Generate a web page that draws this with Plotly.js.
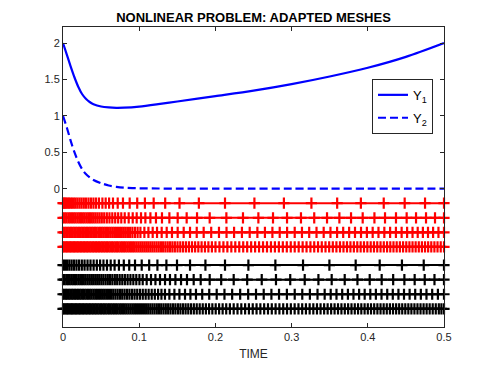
<!DOCTYPE html>
<html>
<head>
<meta charset="utf-8">
<script src="https://cdn.plot.ly/plotly-3.0.1.min.js"></script>
<style>
  html, body { margin: 0; padding: 0; background: #fff; }
  #plot { width: 491px; height: 368px; }
</style>
</head>
<body>
<div id="plot"></div>
<script>
// Solution curves
var time = [0, 0.005, 0.01, 0.015, 0.02, 0.025, 0.03, 0.035, 0.04, 0.05, 0.06, 0.07, 0.08, 0.1, 0.125, 0.15, 0.2, 0.25, 0.3, 0.35, 0.4, 0.45, 0.5];
var y1 = [2.0, 1.84, 1.68, 1.53, 1.40, 1.30, 1.235, 1.19, 1.16, 1.128, 1.115, 1.11, 1.112, 1.127, 1.16, 1.197, 1.27, 1.345, 1.435, 1.54, 1.66, 1.81, 2.0];
var y2 = [1.0, 0.84, 0.66, 0.50, 0.37, 0.27, 0.20, 0.155, 0.12, 0.075, 0.043, 0.025, 0.014, 0.005, 0.002, 0.001, 0, 0, 0, 0, 0, 0, 0];

// Adapted meshes (node positions in TIME), red = first set, black = second set
var redLevels = [-0.2, -0.4, -0.6, -0.8];
var blackLevels = [-1.05, -1.25, -1.45, -1.65];

var redMesh1 = [0, 0.0013, 0.0028, 0.0043, 0.0060, 0.0079, 0.0098, 0.0119, 0.0142, 0.0165, 0.0190, 0.0217, 0.0244, 0.0273, 0.0303, 0.0335, 0.0367, 0.0400, 0.0434, 0.0472, 0.0517, 0.0560, 0.0605, 0.0656, 0.0718, 0.0787, 0.0875, 0.0974, 0.1075, 0.1190, 0.1341, 0.1529, 0.1783, 0.2126, 0.2512, 0.2899, 0.3260, 0.3598, 0.3909, 0.4209, 0.4484, 0.4751, 0.5];

var redMesh2 = [0, 0.0024, 0.0047, 0.0071, 0.0094, 0.0118, 0.0142, 0.0165, 0.0189, 0.0213, 0.0236, 0.0260, 0.0283, 0.0307, 0.0331, 0.0354, 0.0378, 0.0402, 0.0427, 0.0453, 0.0480, 0.0509, 0.0541, 0.0575, 0.0610, 0.0647, 0.0685, 0.0724, 0.0765, 0.0810, 0.0862, 0.0915, 0.0967, 0.1024, 0.1081, 0.1147, 0.1220, 0.1299, 0.1396, 0.1505, 0.1623, 0.1759, 0.1925, 0.2144, 0.2362, 0.2564, 0.2756, 0.2940, 0.3123, 0.3297, 0.3465, 0.3627, 0.3780, 0.3933, 0.4087, 0.4226, 0.4370, 0.4510, 0.4633, 0.4764, 0.4882, 0.5];

var redMesh3 = [0, 0.0021, 0.0042, 0.0063, 0.0084, 0.0105, 0.0126, 0.0147, 0.0168, 0.0189, 0.0210, 0.0231, 0.0252, 0.0273, 0.0294, 0.0315, 0.0336, 0.0357, 0.0378, 0.0399, 0.0420, 0.0442, 0.0465, 0.0487, 0.0509, 0.0531, 0.0554, 0.0577, 0.0601, 0.0625, 0.0648, 0.0672, 0.0697, 0.0722, 0.0747, 0.0772, 0.0798, 0.0824, 0.0852, 0.0881, 0.0911, 0.0944, 0.0979, 0.1016, 0.1068, 0.1121, 0.1177, 0.1234, 0.1295, 0.1361, 0.1430, 0.1505, 0.1584, 0.1667, 0.1755, 0.1846, 0.1945, 0.2047, 0.2146, 0.2245, 0.2348, 0.2450, 0.2551, 0.2650, 0.2748, 0.2844, 0.2941, 0.3041, 0.3136, 0.3231, 0.3327, 0.3421, 0.3510, 0.3597, 0.3677, 0.3755, 0.3832, 0.3911, 0.3988, 0.4064, 0.4140, 0.4217, 0.4293, 0.4369, 0.4444, 0.4516, 0.4587, 0.4655, 0.4723, 0.4790, 0.4857, 0.4927, 0.5];

var redMesh4 = [0, 0.0018, 0.0036, 0.0054, 0.0072, 0.0090, 0.0108, 0.0126, 0.0144, 0.0162, 0.0180, 0.0199, 0.0218, 0.0237, 0.0256, 0.0275, 0.0294, 0.0313, 0.0332, 0.0352, 0.0372, 0.0392, 0.0412, 0.0432, 0.0452, 0.0472, 0.0493, 0.0514, 0.0535, 0.0556, 0.0577, 0.0598, 0.0620, 0.0642, 0.0664, 0.0686, 0.0708, 0.0730, 0.0753, 0.0776, 0.0799, 0.0822, 0.0845, 0.0869, 0.0893, 0.0917, 0.0941, 0.0966, 0.0991, 0.1016, 0.1041, 0.1067, 0.1093, 0.1119, 0.1146, 0.1173, 0.1200, 0.1228, 0.1256, 0.1285, 0.1314, 0.1344, 0.1374, 0.1405, 0.1436, 0.1468, 0.1503, 0.1539, 0.1576, 0.1614, 0.1653, 0.1693, 0.1734, 0.1776, 0.1819, 0.1863, 0.1908, 0.1954, 0.2001, 0.2053, 0.2105, 0.2157, 0.2209, 0.2261, 0.2313, 0.2365, 0.2417, 0.2469, 0.2521, 0.2573, 0.2625, 0.2677, 0.2729, 0.2781, 0.2833, 0.2885, 0.2937, 0.2989, 0.3041, 0.3093, 0.3145, 0.3196, 0.3247, 0.3297, 0.3347, 0.3396, 0.3445, 0.3493, 0.3541, 0.3588, 0.3635, 0.3681, 0.3727, 0.3772, 0.3817, 0.3862, 0.3906, 0.3950, 0.3994, 0.4038, 0.4081, 0.4124, 0.4167, 0.4210, 0.4253, 0.4295, 0.4337, 0.4379, 0.4421, 0.4463, 0.4505, 0.4546, 0.4587, 0.4628, 0.4669, 0.4710, 0.4751, 0.4792, 0.4833, 0.4874, 0.4915, 0.4957, 0.5];

var blackMesh1 = [0, 0.0026, 0.0054, 0.0083, 0.0113, 0.0144, 0.0177, 0.0211, 0.0247, 0.0283, 0.0322, 0.0361, 0.0402, 0.0444, 0.0487, 0.0531, 0.0577, 0.0626, 0.0677, 0.0734, 0.0798, 0.0869, 0.0945, 0.1033, 0.1131, 0.1239, 0.1357, 0.1496, 0.1667, 0.1869, 0.2126, 0.2433, 0.2787, 0.3150, 0.3496, 0.3841, 0.4156, 0.4448, 0.4734, 0.5];

var blackMesh2 = [0, 0.0022, 0.0045, 0.0067, 0.0089, 0.0112, 0.0134, 0.0156, 0.0178, 0.0202, 0.0226, 0.0249, 0.0273, 0.0297, 0.0322, 0.0346, 0.0371, 0.0396, 0.0423, 0.0449, 0.0475, 0.0503, 0.0530, 0.0559, 0.0588, 0.0618, 0.0648, 0.0680, 0.0711, 0.0744, 0.0778, 0.0812, 0.0848, 0.0885, 0.0923, 0.0962, 0.1003, 0.1046, 0.1098, 0.1155, 0.1213, 0.1273, 0.1339, 0.1404, 0.1475, 0.1549, 0.1627, 0.1715, 0.1807, 0.1925, 0.2076, 0.2240, 0.2417, 0.2608, 0.2795, 0.2982, 0.3172, 0.3352, 0.3526, 0.3697, 0.3864, 0.4025, 0.4182, 0.4333, 0.4480, 0.4615, 0.4747, 0.4875, 0.5];

var blackMesh3 = [0, 0.0019, 0.0038, 0.0057, 0.0076, 0.0096, 0.0116, 0.0136, 0.0156, 0.0177, 0.0198, 0.0219, 0.0240, 0.0262, 0.0284, 0.0306, 0.0329, 0.0352, 0.0375, 0.0399, 0.0423, 0.0447, 0.0472, 0.0497, 0.0523, 0.0549, 0.0576, 0.0603, 0.0631, 0.0659, 0.0688, 0.0717, 0.0747, 0.0777, 0.0808, 0.0840, 0.0872, 0.0905, 0.0939, 0.0974, 0.1010, 0.1047, 0.1085, 0.1124, 0.1164, 0.1205, 0.1248, 0.1292, 0.1338, 0.1396, 0.1462, 0.1528, 0.1601, 0.1672, 0.1745, 0.1827, 0.1919, 0.2017, 0.2119, 0.2220, 0.2325, 0.2430, 0.2533, 0.2634, 0.2735, 0.2835, 0.2938, 0.3041, 0.3140, 0.3240, 0.3340, 0.3434, 0.3513, 0.3589, 0.3664, 0.3739, 0.3812, 0.3886, 0.3959, 0.4033, 0.4106, 0.4180, 0.4255, 0.4328, 0.4402, 0.4475, 0.4549, 0.4622, 0.4696, 0.4770, 0.4845, 0.4920, 0.5];

var blackMesh4 = [0, 0.0017, 0.0034, 0.0051, 0.0068, 0.0085, 0.0102, 0.0119, 0.0136, 0.0153, 0.0171, 0.0189, 0.0207, 0.0225, 0.0243, 0.0261, 0.0280, 0.0299, 0.0318, 0.0337, 0.0356, 0.0376, 0.0396, 0.0416, 0.0436, 0.0456, 0.0477, 0.0498, 0.0519, 0.0540, 0.0561, 0.0583, 0.0605, 0.0627, 0.0649, 0.0671, 0.0694, 0.0717, 0.0740, 0.0763, 0.0787, 0.0811, 0.0835, 0.0859, 0.0884, 0.0909, 0.0934, 0.0959, 0.0985, 0.1011, 0.1037, 0.1064, 0.1091, 0.1118, 0.1146, 0.1174, 0.1202, 0.1231, 0.1260, 0.1289, 0.1319, 0.1349, 0.1380, 0.1411, 0.1443, 0.1475, 0.1508, 0.1541, 0.1575, 0.1609, 0.1644, 0.1680, 0.1717, 0.1755, 0.1794, 0.1834, 0.1875, 0.1917, 0.1960, 0.2004, 0.2049, 0.2095, 0.2142, 0.2190, 0.2240, 0.2290, 0.2340, 0.2390, 0.2440, 0.2490, 0.2540, 0.2590, 0.2640, 0.2690, 0.2740, 0.2790, 0.2840, 0.2890, 0.2940, 0.2990, 0.3040, 0.3090, 0.3139, 0.3188, 0.3237, 0.3285, 0.3333, 0.3380, 0.3427, 0.3473, 0.3519, 0.3564, 0.3609, 0.3654, 0.3698, 0.3742, 0.3786, 0.3829, 0.3872, 0.3915, 0.3958, 0.4000, 0.4042, 0.4084, 0.4126, 0.4167, 0.4208, 0.4249, 0.4290, 0.4331, 0.4372, 0.4412, 0.4452, 0.4492, 0.4532, 0.4572, 0.4612, 0.4652, 0.4692, 0.4732, 0.4772, 0.4812, 0.4852, 0.4892, 0.4932, 0.4966, 0.5];

var redMeshes = [redMesh1, redMesh2, redMesh3, redMesh4];
var blackMeshes = [blackMesh1, blackMesh2, blackMesh3, blackMesh4];

function meshTrace(nodes, level, color) {
  return {
    x: nodes,
    y: nodes.map(function () { return level; }),
    mode: "lines+markers",
    type: "scatter",
    showlegend: false,
    hoverinfo: "skip",
    cliponaxis: false,
    line: { color: color, width: 2 },
    marker: {
      symbol: "cross-thin",
      size: 8,
      color: color,
      line: { color: color, width: 2.2 }
    }
  };
}

var trace1 = {
  x: time,
  y: y1,
  mode: "lines",
  type: "scatter",
  name: "Y<sub>1</sub>",
  legendgroup: "a",
  line: { color: "#0000ff", width: 2.2, shape: "spline", smoothing: 0.8 }
};

var trace2 = {
  x: time,
  y: y2,
  mode: "lines",
  type: "scatter",
  name: "Y<sub>2</sub>",
  legendgroup: "b",
  line: { color: "#0000ff", width: 2.2, shape: "spline", smoothing: 0.8, dash: "8px,4px" }
};

var data = [];
redMeshes.forEach(function (m, i) { data.push(meshTrace(m, redLevels[i], "#ff0000")); });
blackMeshes.forEach(function (m, i) { data.push(meshTrace(m, blackLevels[i], "#000000")); });
data.push(trace1, trace2);

var axisFont = { family: "Liberation Sans, Arial, sans-serif", size: 11, color: "#262626" };

var layout = {
  width: 491,
  height: 368,
  margin: { l: 63, r: 47, t: 27, b: 41 },
  paper_bgcolor: "#ffffff",
  plot_bgcolor: "#ffffff",
  font: axisFont,
  title: {
    text: "<b>NONLINEAR PROBLEM: ADAPTED MESHES</b>",
    font: { family: "Liberation Sans, Arial, sans-serif", size: 13, color: "#000000" },
    x: 0.5, xref: "paper",
    y: 0.953, yanchor: "middle"
  },
  xaxis: {
    range: [0, 0.5],
    tickvals: [0, 0.1, 0.2, 0.3, 0.4, 0.5],
    ticktext: ["0", "0.1", "0.2", "0.3", "0.4", "0.5"],
    ticks: "inside",
    ticklen: 4,
    tickcolor: "#262626",
    showgrid: false,
    zeroline: false,
    showline: true,
    mirror: "ticks",
    linecolor: "#262626",
    linewidth: 1,
    tickfont: axisFont,
    title: { text: "TIME", font: { family: "Liberation Sans, Arial, sans-serif", size: 12, color: "#262626" }, standoff: 7 }
  },
  yaxis: {
    range: [-1.9, 2.22],
    tickvals: [0, 0.5, 1, 1.5, 2],
    ticktext: ["0", "0.5", "1", "1.5", "2"],
    ticks: "inside",
    ticklen: 4,
    tickcolor: "#262626",
    showgrid: false,
    zeroline: false,
    showline: true,
    mirror: "ticks",
    linecolor: "#262626",
    linewidth: 1,
    tickfont: axisFont
  },
  legend: {
    x: 0.811, y: 0.827,
    xanchor: "left", yanchor: "top",
    bgcolor: "#ffffff",
    bordercolor: "#262626",
    borderwidth: 1,
    font: { family: "Liberation Sans, Arial, sans-serif", size: 13, color: "#000000" },
    tracegroupgap: 3
  },
  showlegend: true
};

Plotly.newPlot("plot", data, layout, { displayModeBar: false, staticPlot: true });
</script>
</body>
</html>
